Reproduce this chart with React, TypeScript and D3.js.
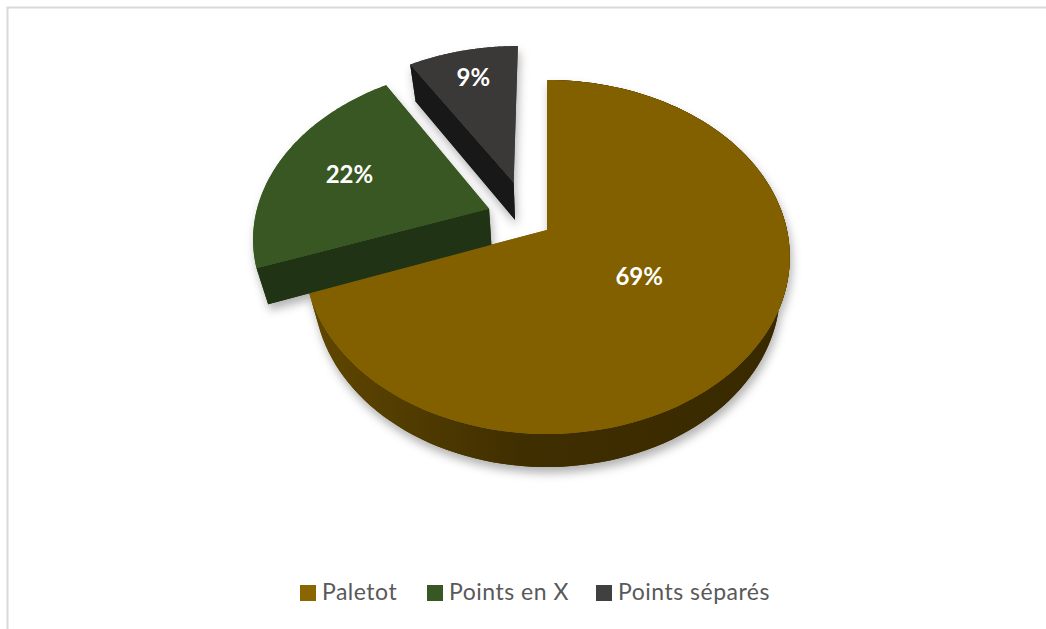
import React from 'react';
import * as d3 from 'd3';

const categories = ['Paletot', 'Points en X', 'Points séparés'];
const shares = [69.4, 21.7, 8.9];

const topColors = ['#826000', '#385723', '#3b3838'];
const wallDark = ['#3a2a00', '#203314', '#181818'];
const legendColors = ['#8a6600', '#385723', '#404040'];

// ground plane offset of each slice, pie units
const explode = [[0, 0], [-0.246, -0.125], [-0.145, -0.285]];
const sliceScale = [1, 0.985, 0.985];
const labelRadius = [0.45, 0.655, 0.76];
const wallHeights = [33, 36, 37];
const legendX = [300, 427, 596];

const W = 1046;
const H = 629;
const apexX = 547;
const apexY = 230;
const radiusX = 240;
const radiusY = 172.9;
const persp = 0.1525;
const wallShrink = 0.96;

function project(u: number, v: number): [number, number] {
    const s = 1 / (1 - persp * v);
    return [apexX + radiusX * u * s, apexY + radiusY * v * s];
}

const slices = d3.pie<number>().sort(null).startAngle(0).endAngle(2 * Math.PI)(shares);
const line = d3.line();

function rim(i: number, a0: number, a1: number): [number, number][] {
    const [du, dv] = explode[i];
    const r = sliceScale[i];
    return d3.range(0, 121).map(k => {
        const a = a0 + ((a1 - a0) * k) / 120;
        return project(du + r * Math.sin(a), dv - r * Math.cos(a));
    });
}

function Slice({ i, shadow }: { i: number; shadow?: boolean }) {
    const d = slices[i];
    const lower = (p: [number, number]): [number, number] => [
        apexX + (p[0] - apexX) * wallShrink,
        p[1] + wallHeights[i],
    ];
    const top = rim(i, d.startAngle, d.endAngle);
    const apex = project(explode[i][0], explode[i][1]);
    const frontEdge = top[0];

    return (
        <g filter={shadow ? 'url(#softShadow)' : undefined}>
            {i === 0 ? (
                <path
                    d={line([...top, ...top.map(lower).reverse()]) + 'Z'}
                    fill="url(#wallMain)"
                />
            ) : (
                <path
                    d={line([apex, frontEdge, lower(frontEdge), lower(apex)]) + 'Z'}
                    fill={wallDark[i]}
                />
            )}
            <path d={line([apex, ...top]) + 'Z'} fill={topColors[i]} />
        </g>
    );
}

export default function App() {
    const order = [0, 1, 2];

    return (
        <svg
            width={W}
            height={H}
            style={{ position: 'absolute', left: 0, top: 0, background: '#fff', fontFamily: 'Lato, sans-serif' }}
        >
            <defs>
                <filter id="softShadow" x="-20%" y="-20%" width="140%" height="140%">
                    <feDropShadow dx="2" dy="6" stdDeviation="5" floodColor="#000" floodOpacity="0.3" />
                </filter>
                <linearGradient id="wallMain" gradientUnits="userSpaceOnUse" x1="316" x2="780" y1="0" y2="0">
                    <stop offset="0" stopColor="#5f4600" />
                    <stop offset="0.45" stopColor="#3f2e00" />
                    <stop offset="1" stopColor="#392900" />
                </linearGradient>
            </defs>

            <path d={`M${W} 7.5H7.5V${H}`} fill="none" stroke="#d9d9d9" strokeWidth={2} />

            {order.map(i => <Slice key={i} i={i} shadow />)}
            {order.map(i => <Slice key={i} i={i} />)}

            {slices.map((d, i) => {
                const mid = (d.startAngle + d.endAngle) / 2;
                const r = labelRadius[i];
                const [x, y] = project(explode[i][0] + r * Math.sin(mid), explode[i][1] - r * Math.cos(mid));
                return (
                    <text key={i} x={x} y={y} dy="0.35em" textAnchor="middle" fill="#fff" fontWeight={700} fontSize={24}>
                        {Math.round(d.data)}%
                    </text>
                );
            })}

            {categories.map((name, i) => (
                <g key={name} transform={`translate(${legendX[i]},592)`}>
                    <rect x={0} y={-7} width={16} height={16} fill={legendColors[i]} />
                    <text x={22} y={0} dy="0.35em" fontSize={23} letterSpacing={0.5} fill="#595959">{name}</text>
                </g>
            ))}
        </svg>
    );
}
